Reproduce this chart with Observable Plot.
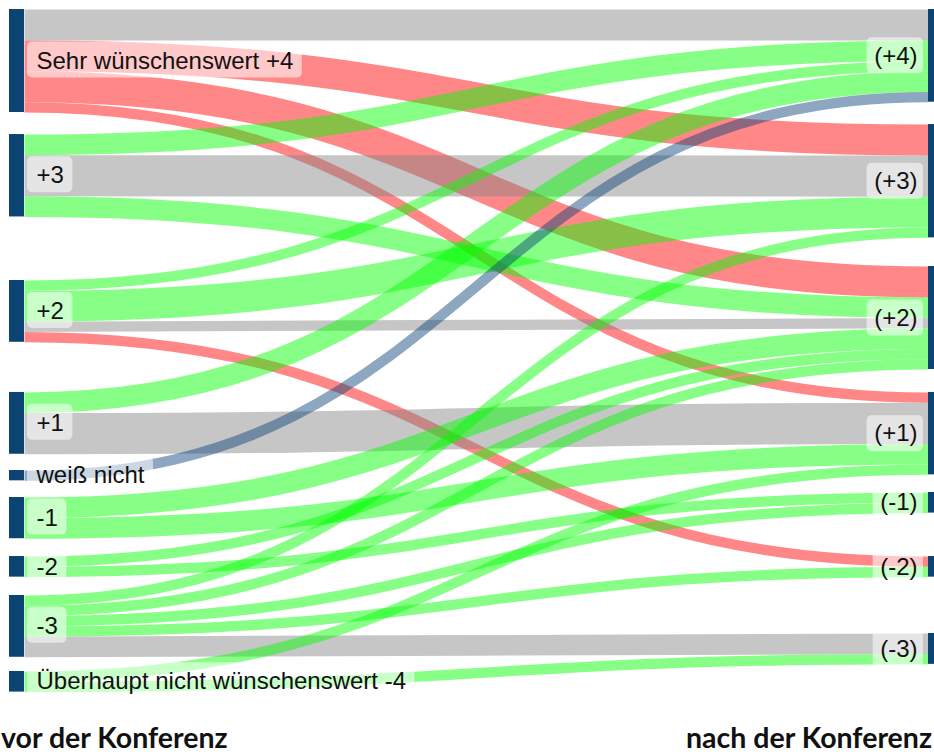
<!DOCTYPE html>
<html><head><meta charset="utf-8">
<script src="https://cdn.jsdelivr.net/npm/d3@7"></script>
<script src="https://cdn.jsdelivr.net/npm/@observablehq/plot@0.6"></script>
<style>
body{margin:0;background:#fff;}
#wrap{position:relative;width:934px;height:755px;overflow:hidden;}
.cap{position:absolute;top:723px;font-family:'Lato',sans-serif;font-weight:700;font-size:28.5px;line-height:1;color:#111;white-space:nowrap;}
</style></head><body><div id="wrap"></div>
<script>
// ---- data ----
const leftNodes  = ["+4","+3","+2","+1","wn","-1","-2","-3","-4"];
const leftLabels = ["Sehr wünschenswert +4","+3","+2","+1","weiß nicht","-1","-2","-3","Überhaupt nicht wünschenswert -4"];
const rightNodes  = ["(+4)","(+3)","(+2)","(+1)","(-1)","(-2)","(-3)"];
const rightLabels = ["(+4)","(+3)","(+2)","(+1)","(-1)","(-2)","(-3)"];
const linkSource = ["+4","+4","+4","+4","+3","+3","+3","+2","+2","+2","+2","+1","+1","wn","-1","-1","-2","-2","-3","-3","-3","-3","-3","-4","-4"];
const linkTarget = ["(+4)","(+3)","(+2)","(+1)","(+4)","(+3)","(+2)","(+4)","(+3)","(+2)","(-2)","(+4)","(+1)","(+4)","(+2)","(+1)","(+2)","(-1)","(+3)","(+2)","(-1)","(-2)","(-3)","(+1)","(-3)"];
const linkValue  = [3,3,3,1,2,4,2,1,3,1,1,2,4,1,2,2,1,1,1,1,1,1,2,1,1];
const linkKind   = ["gleich","rot","rot","rot","grün","gleich","grün","grün","grün","gleich","rot","grün","gleich","blau","grün","grün","grün","grün","grün","grün","grün","grün","gleich","grün","grün"];
const captionLeft = "vor der Konferenz";
const captionRight = "nach der Konferenz";

// ---- layout (gaps between nodes, in respondent units) ----
const leftGaps  = [2.14, 6.17, 4.87, 1.58, 1.62, 1.73, 1.78, 1.38];
const rightGaps = [2.17, 2.78, 2.23, 1.71, 4.22, 5.47];
const K = 10.3, TOP = 9, X0 = 24, X1 = 928, SPAN = X1 - X0;

const links = linkSource.map((s, i) => ({s, t: linkTarget[i], v: linkValue[i], kind: linkKind[i], i}));
function layout(names, labels, gaps, key) {
  let y = 0;
  return names.map((n, j) => {
    if (j > 0) y += gaps[j - 1];
    const v = d3.sum(links.filter(l => l[key] === n), l => l.v);
    const node = {name: n, label: labels[j], y0: y, y1: y + v};
    y += v;
    return node;
  });
}
const L = layout(leftNodes, leftLabels, leftGaps, "s");
const R = layout(rightNodes, rightLabels, rightGaps, "t");
const li = new Map(leftNodes.map((n, i) => [n, i])), ri = new Map(rightNodes.map((n, i) => [n, i]));
for (const n of L) { let y = n.y0; links.filter(l => l.s === n.name).sort((a, b) => ri.get(a.t) - ri.get(b.t) || a.i - b.i).forEach(l => { l.sy = y + l.v / 2; y += l.v; }); }
for (const n of R) { let y = n.y0; links.filter(l => l.t === n.name).sort((a, b) => li.get(a.s) - li.get(b.s) || a.i - b.i).forEach(l => { l.ty = y + l.v / 2; y += l.v; }); }

const ctx = document.createElement("canvas").getContext("2d");
ctx.font = "24px 'Liberation Sans'";
const tw = s => ctx.measureText(s).width;
L.forEach(n => { n.c = (n.y0 + n.y1) / 2; n.w = tw(n.label); });
R.forEach(n => { n.c = (n.y0 + n.y1) / 2; n.w = tw(n.label); });

const nw = 15 / SPAN;
const chart = Plot.plot({
  width: 934, height: 712, margin: 0,
  style: {fontFamily: "'Liberation Sans', Arial, sans-serif", background: "#fff"},
  x: {domain: [0, 1], range: [X0, X1], axis: null},
  y: {domain: [0, 70], range: [TOP, TOP + 70 * K], axis: null},
  color: {domain: ["gleich", "rot", "grün", "blau"], range: ["#858585", "#ff0000", "#00ff00", "#0a4478"]},
  marks: [
    Plot.link(links, {x1: d => 0, x2: d => 1, y1: "sy", y2: "ty", curve: "bump-x",
      stroke: "kind", strokeWidth: d => d.v * K, strokeOpacity: 0.47}),
    Plot.rect(L, {x1: d => -nw, x2: d => 0, y1: "y0", y2: "y1", fill: "#0b4373"}),
    Plot.rect(R, {x1: d => 1, x2: d => 1 + nw, y1: "y0", y2: "y1", fill: "#0b4373"}),
    Plot.rect(L, {x1: d => 3 / SPAN, x2: d => (21 + d.w) / SPAN, y1: d => d.c - 19 / K, y2: d => d.c + 17 / K,
      fill: "#fff", fillOpacity: 0.55, rx: 5}),
    Plot.rect(R, {x1: d => 1 - (18 + d.w) / SPAN, x2: d => 1 - 5 / SPAN, y1: d => d.c - 18 / K, y2: d => d.c + 18 / K,
      fill: "#fff", fillOpacity: 0.55, rx: 5}),
    Plot.text(L, {x: d => 0, y: "c", text: "label", dx: 12, textAnchor: "start", lineAnchor: "middle", fontSize: 24, fill: "#111"}),
    Plot.text(R, {x: d => 1, y: "c", text: "label", dx: -11, textAnchor: "end", lineAnchor: "middle", fontSize: 24, fill: "#111"})
  ]
});
const wrap = document.getElementById("wrap");
wrap.appendChild(chart);
const c1 = document.createElement("div"); c1.className = "cap"; c1.style.left = "1px"; c1.textContent = captionLeft;
const c2 = document.createElement("div"); c2.className = "cap"; c2.style.right = "2px"; c2.textContent = captionRight;
wrap.appendChild(c1); wrap.appendChild(c2);
</script></body></html>
